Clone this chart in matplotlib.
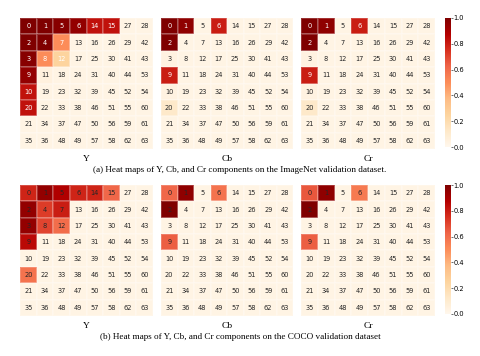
import numpy as np
import matplotlib.pyplot as plt
from matplotlib.colors import Normalize

# zigzag index labels shown in every cell
zigzag = [
    [0, 1, 5, 6, 14, 15, 27, 28],
    [2, 4, 7, 13, 16, 26, 29, 42],
    [3, 8, 12, 17, 25, 30, 41, 43],
    [9, 11, 18, 24, 31, 40, 44, 53],
    [10, 19, 23, 32, 39, 45, 52, 54],
    [20, 22, 33, 38, 46, 51, 55, 60],
    [21, 34, 37, 47, 50, 56, 59, 61],
    [35, 36, 48, 49, 57, 58, 62, 63],
]

# (a) ImageNet
imagenet_y = [
    [1.00, 1.00, 0.98, 0.95, 0.83, 0.83, 0.03, 0.03],
    [1.00, 1.00, 0.50, 0.03, 0.03, 0.03, 0.03, 0.03],
    [0.98, 0.50, 0.25, 0.03, 0.03, 0.03, 0.03, 0.03],
    [0.95, 0.05, 0.03, 0.03, 0.03, 0.03, 0.03, 0.03],
    [0.83, 0.03, 0.03, 0.03, 0.03, 0.03, 0.03, 0.03],
    [0.83, 0.03, 0.03, 0.03, 0.03, 0.03, 0.03, 0.03],
    [0.03, 0.03, 0.03, 0.03, 0.03, 0.03, 0.03, 0.03],
    [0.03, 0.03, 0.03, 0.03, 0.03, 0.03, 0.03, 0.03],
]
imagenet_cb = [
    [1.00, 0.96, 0.03, 0.80, 0.03, 0.03, 0.03, 0.03],
    [1.00, 0.03, 0.03, 0.03, 0.03, 0.03, 0.03, 0.03],
    [0.04, 0.03, 0.03, 0.03, 0.03, 0.03, 0.03, 0.03],
    [0.80, 0.03, 0.03, 0.03, 0.03, 0.03, 0.03, 0.03],
    [0.04, 0.03, 0.03, 0.03, 0.03, 0.03, 0.03, 0.03],
    [0.12, 0.03, 0.03, 0.03, 0.03, 0.03, 0.03, 0.03],
    [0.03, 0.03, 0.03, 0.03, 0.03, 0.03, 0.03, 0.03],
    [0.03, 0.03, 0.03, 0.03, 0.03, 0.03, 0.03, 0.03],
]
imagenet_cr = [
    [1.00, 0.96, 0.03, 0.80, 0.03, 0.03, 0.03, 0.03],
    [1.00, 0.03, 0.03, 0.03, 0.03, 0.03, 0.03, 0.03],
    [0.04, 0.03, 0.03, 0.03, 0.03, 0.03, 0.03, 0.03],
    [0.80, 0.03, 0.03, 0.03, 0.03, 0.03, 0.03, 0.03],
    [0.04, 0.03, 0.03, 0.03, 0.03, 0.03, 0.03, 0.03],
    [0.12, 0.03, 0.03, 0.03, 0.03, 0.03, 0.03, 0.03],
    [0.03, 0.03, 0.03, 0.03, 0.03, 0.03, 0.03, 0.03],
    [0.03, 0.03, 0.03, 0.03, 0.03, 0.03, 0.03, 0.03],
]

# (b) COCO
coco_y = [
    [0.78, 0.95, 0.88, 0.78, 0.78, 0.62, 0.03, 0.03],
    [0.95, 0.72, 0.80, 0.03, 0.03, 0.03, 0.03, 0.03],
    [0.95, 0.70, 0.60, 0.03, 0.03, 0.03, 0.03, 0.03],
    [0.85, 0.03, 0.03, 0.03, 0.03, 0.03, 0.03, 0.03],
    [0.03, 0.03, 0.03, 0.03, 0.03, 0.03, 0.03, 0.03],
    [0.58, 0.03, 0.03, 0.03, 0.03, 0.03, 0.03, 0.03],
    [0.03, 0.03, 0.03, 0.03, 0.03, 0.03, 0.03, 0.03],
    [0.03, 0.03, 0.03, 0.03, 0.03, 0.03, 0.03, 0.03],
]
coco_cb = [
    [0.62, 0.96, 0.03, 0.58, 0.03, 0.03, 0.03, 0.03],
    [1.00, 0.03, 0.03, 0.03, 0.03, 0.03, 0.03, 0.03],
    [0.03, 0.03, 0.03, 0.03, 0.03, 0.03, 0.03, 0.03],
    [0.64, 0.03, 0.03, 0.03, 0.03, 0.03, 0.03, 0.03],
    [0.03, 0.03, 0.03, 0.03, 0.03, 0.03, 0.03, 0.03],
    [0.03, 0.03, 0.03, 0.03, 0.03, 0.03, 0.03, 0.03],
    [0.03, 0.03, 0.03, 0.03, 0.03, 0.03, 0.03, 0.03],
    [0.03, 0.03, 0.03, 0.03, 0.03, 0.03, 0.03, 0.03],
]
coco_cr = [
    [0.66, 0.96, 0.03, 0.56, 0.03, 0.03, 0.03, 0.03],
    [1.00, 0.03, 0.03, 0.03, 0.03, 0.03, 0.03, 0.03],
    [0.03, 0.03, 0.03, 0.03, 0.03, 0.03, 0.03, 0.03],
    [0.64, 0.03, 0.03, 0.03, 0.03, 0.03, 0.03, 0.03],
    [0.03, 0.03, 0.03, 0.03, 0.03, 0.03, 0.03, 0.03],
    [0.03, 0.03, 0.03, 0.03, 0.03, 0.03, 0.03, 0.03],
    [0.03, 0.03, 0.03, 0.03, 0.03, 0.03, 0.03, 0.03],
    [0.03, 0.03, 0.03, 0.03, 0.03, 0.03, 0.03, 0.03],
]

components = ["Y", "Cb", "Cr"]
captions = [
    "(a) Heat maps of Y, Cb, and Cr components on the ImageNet validation dataset.",
    "(b) Heat maps of Y, Cb, and Cr components on the COCO validation dataset",
]
cbar_ticks = [0.0, 0.2, 0.4, 0.6, 0.8, 1.0]

W, H = 480, 356
fig = plt.figure(figsize=(W / 100, H / 100), dpi=100)
cmap = plt.get_cmap("OrRd")
norm = Normalize(0, 1)


def px_axes(x0, y0, x1, y1):
    # pixel box (top-left origin) -> figure axes
    return fig.add_axes([x0 / W, 1 - y1 / H, (x1 - x0) / W, (y1 - y0) / H])


def draw_heat(ax, vals, white_text):
    vals = np.array(vals)
    ax.pcolormesh(vals, cmap=cmap, norm=norm, edgecolors=(1, 1, 1, 0.2), linewidth=0.3)
    ax.set_xlim(0, 8)
    ax.set_ylim(8, 0)
    for i in range(8):
        for j in range(8):
            v = vals[i, j]
            c = "white" if (white_text and v >= 0.25) else "#262626"
            ax.text(j + 0.5, i + 0.5, str(zigzag[i][j]), ha="center", va="center",
                    fontsize=4.8, color=c)
    ax.set_axis_off()


panels = [
    ([imagenet_y, imagenet_cb, imagenet_cr], 18, 149, True),
    ([coco_y, coco_cb, coco_cr], 185, 316, False),
]
xs = [(20, 153), (161, 293), (301, 435)]

for k, (data, top, bot, white_text) in enumerate(panels):
    for (x0, x1), vals, name in zip(xs, data, components):
        ax = px_axes(x0, top, x1, bot)
        draw_heat(ax, vals, white_text)
        fig.text((x0 + x1) / 2 / W, 1 - (bot + 10) / H, name, ha="center", va="center",
                 fontsize=6.8, family="Liberation Serif")
    fig.text(240 / W, 1 - (bot + 21) / H, captions[k], ha="center", va="center",
             fontsize=6.6, family="Liberation Serif")

    cax = px_axes(445, top, 451, bot - 2)
    sm = plt.cm.ScalarMappable(norm=norm, cmap=cmap)
    cb = fig.colorbar(sm, cax=cax, ticks=cbar_ticks)
    cb.outline.set_visible(False)
    cb.ax.tick_params(labelsize=4.8, length=1.5, width=0.4, pad=0.5)
    cb.ax.set_yticklabels([f"{t:.1f}" for t in cbar_ticks])

fig.savefig("out.png", dpi=100)
